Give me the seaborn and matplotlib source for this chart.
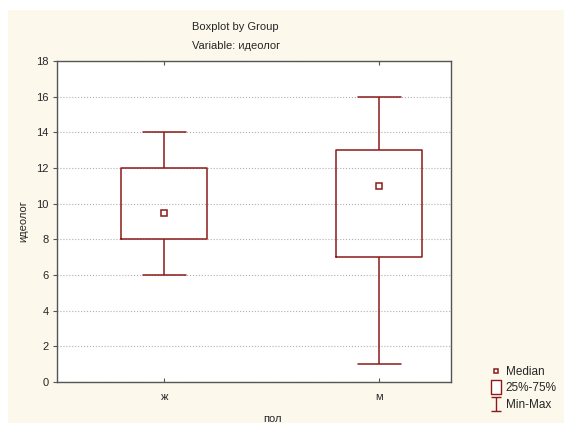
import numpy as np
import pandas as pd
import matplotlib.pyplot as plt
import seaborn as sns
from matplotlib.lines import Line2D
from matplotlib.path import Path
from matplotlib.patches import Rectangle

# Group values (5 points each -> quartiles fall exactly on min/q1/median/q3/max)
groups = ["ж", "м"]
zh_values = [6, 8, 9.5, 12, 14]
m_values = [1, 7, 11, 13, 16]
y_ticks = [0, 2, 4, 6, 8, 10, 12, 14, 16, 18]

df = pd.DataFrame({
    "пол": ["ж"] * len(zh_values) + ["м"] * len(m_values),
    "идеолог": zh_values + m_values,
})

red = "#8b1a1a"
cream = "#fdf8ec"

sns.set_theme(style="white")
plt.rcParams["font.family"] = ["Liberation Sans", "DejaVu Sans"]

fig = plt.figure(figsize=(5.64, 4.25), dpi=100)
fig.patch.set_facecolor("white")
fig.patches.append(Rectangle((8 / 564, 2 / 425), 1, 413 / 425, transform=fig.transFigure,
                             facecolor=cream, edgecolor="none", zorder=-10))

ax = fig.add_axes([57 / 564, 1 - 382 / 425, 394 / 564, 321 / 425])
ax.set_facecolor("white")

sns.boxplot(data=df, x="пол", y="идеолог", order=groups, whis=(0, 100), width=0.4,
            fill=False, color=red, linewidth=1.1, ax=ax,
            medianprops={"visible": False})

# median markers
medians = df.groupby("пол")["идеолог"].median().reindex(groups)
ax.plot(range(len(groups)), medians.values, linestyle="none", marker="s", markersize=4,
        markerfacecolor="white", markeredgecolor=red, markeredgewidth=1.1, zorder=5)

ax.set_xlim(-0.5, 1.335)
ax.set_ylim(0, 18)
ax.set_yticks(y_ticks)
ax.set_xticks(range(len(groups)))
ax.set_xticklabels(groups)
ax.set_xlabel("")
ax.set_ylabel("")
ax.yaxis.grid(True, linestyle=":", color="#b0b0b0", linewidth=0.8)
ax.set_axisbelow(True)

for s in ax.spines.values():
    s.set_color("#555555")
    s.set_linewidth(1.0)
    s.set_visible(True)

ax.tick_params(axis="y", direction="out", length=3, width=0.8, color="#555555",
               labelsize=8, pad=3, left=True)
ax.tick_params(axis="x", direction="in", length=3, width=0.8, color="#555555",
               labelsize=8, pad=7, bottom=True, top=True)

fig.text(235 / 564, 1 - 27 / 425, "Boxplot by Group", ha="center", va="center", fontsize=8)
fig.text(236 / 564, 1 - 46 / 425, "Variable: идеолог", ha="center", va="center", fontsize=8)
fig.text(272 / 564, 1 - 419 / 425, "пол", ha="center", va="center", fontsize=8)
fig.text(23 / 564, 1 - 221 / 425, "идеолог", ha="center", va="center", rotation=90, fontsize=8)

# legend
box_path = Path([(-0.35, -0.5), (0.35, -0.5), (0.35, 0.5), (-0.35, 0.5), (-0.35, -0.5)],
                [Path.MOVETO, Path.LINETO, Path.LINETO, Path.LINETO, Path.CLOSEPOLY])
ibeam = Path([(-0.37, -0.5), (0.37, -0.5), (0, -0.5), (0, 0.5), (-0.37, 0.5), (0.37, 0.5)],
             [Path.MOVETO, Path.LINETO, Path.MOVETO, Path.LINETO, Path.MOVETO, Path.LINETO])
handles = [
    Line2D([], [], linestyle="none", marker="s", markersize=3.5, markerfacecolor="white",
           markeredgecolor=red, markeredgewidth=1.1),
    Line2D([], [], linestyle="none", marker=box_path, markersize=9.5, markerfacecolor="white",
           markeredgecolor=red, markeredgewidth=1.0),
    Line2D([], [], linestyle="none", marker=ibeam, markersize=10.5, markerfacecolor="none",
           markeredgecolor=red, markeredgewidth=1.0),
]
fig.legend(handles, ["Median", "25%-75%", "Min-Max"], loc="upper left",
           bbox_to_anchor=(484.5 / 564, 1 - 360 / 425), frameon=False, fontsize=8.5,
           handlelength=1.0, handletextpad=0.3, labelspacing=0.38, borderpad=0)

fig.savefig("out.png", dpi=100, facecolor="white")
